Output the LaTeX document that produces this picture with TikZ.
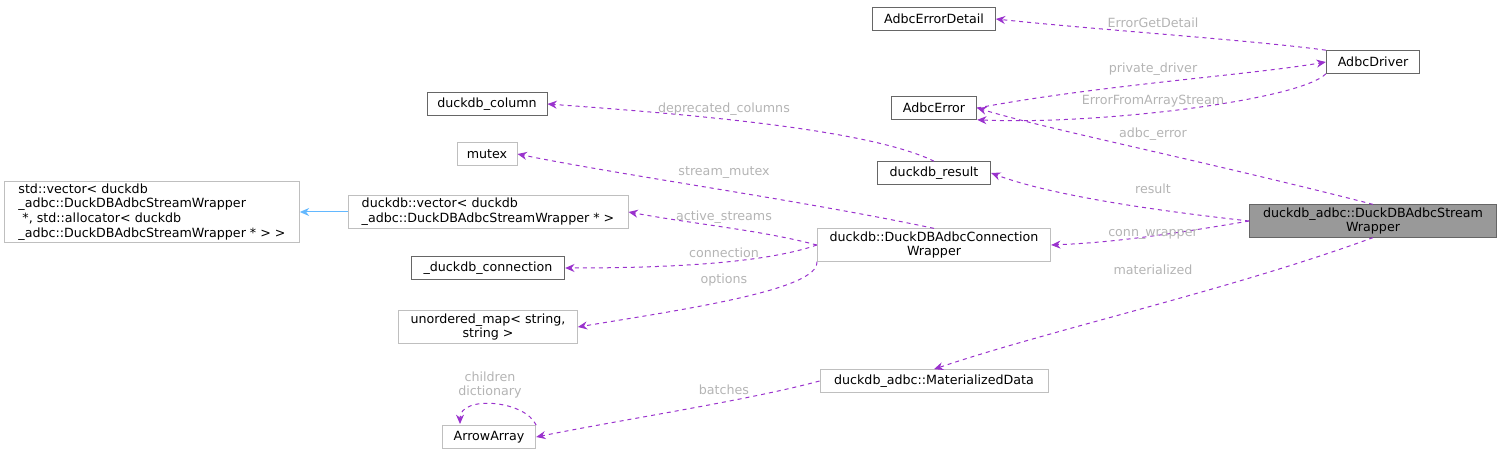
\documentclass[tikz,border=0pt]{standalone}
\usepackage{fontspec}
\setmainfont{DejaVu Sans}
\usetikzlibrary{arrows.meta}
\definecolor{edgec}{HTML}{9A32CD}
\definecolor{lblc}{HTML}{B4B4B4}
\definecolor{darkb}{HTML}{666666}
\definecolor{lightb}{HTML}{BFBFBF}
\tikzset{every picture/.style={line width=0.75pt}}
\tikzset{
	cls/.style={draw=darkb,fill=white,inner sep=2pt,minimum height=17pt,align=center,font=\fontsize{9.5}{11}\selectfont},
	ext/.style={cls,draw=lightb},
	use/.style={draw=edgec,dashed,-{Stealth[length=7pt,width=6pt]}},
	lbl/.style={text=lblc,font=\fontsize{9.5}{11}\selectfont,inner sep=1pt},
}

\begin{document}
\begin{tikzpicture}[x=0.75pt,y=0.75pt,yscale=-1,xscale=1]
	\useasboundingbox (0,0) rectangle (1503,456);
	
	% classes
	\node [cls,minimum width=92pt] (det) at (934,19) {AdbcErrorDetail};
	\node [cls,minimum width=70pt] (drv) at (1373,62) {AdbcDriver};
	\node [cls,minimum width=64pt] (err) at (934,108) {AdbcError};
	\node [cls,minimum width=90pt] (col) at (487,104) {duckdb\_column};
	\node [ext,minimum width=45pt] (mtx) at (487,154) {mutex};
	\node [cls,minimum width=85pt] (res) at (934,173) {duckdb\_result};
	\node [ext,minimum width=221pt,align=left] (stdv) at (152,212) {std::vector\textless{} duckdb\\\_adbc::DuckDBAdbcStreamWrapper\\\ *, std::allocator\textless{} duckdb\\\_adbc::DuckDBAdbcStreamWrapper * \textgreater{} \textgreater{}};
	\node [ext,minimum width=210pt,align=left] (vec) at (488,212) {duckdb::vector\textless{} duckdb\\\_adbc::DuckDBAdbcStreamWrapper * \textgreater{}};
	\node [cls,fill={rgb,255:red,153;green,153;blue,153},minimum width=185pt] (sw) at (1373,221) {duckdb\_adbc::DuckDBAdbcStream\\Wrapper};
	\node [ext,minimum width=175pt] (cw) at (934,245) {duckdb::DuckDBAdbcConnection\\Wrapper};
	\node [cls,minimum width=115pt] (con) at (488,268) {\_duckdb\_connection};
	\node [ext,minimum width=134pt] (map) at (488,327) {unordered\_map\textless{} string,\\string \textgreater{}};
	\node [ext,minimum width=171pt] (mat) at (934,381) {duckdb\_adbc::MaterializedData};
	\node [ext,minimum width=70pt] (arr) at (489,437) {ArrowArray};
	
	% inheritance
	\draw [draw={rgb,255:red,99;green,184;blue,255},-{Stealth[length=7pt,width=6pt]}] (vec) -- (stdv);
	
	% members
	\draw [use] (drv.north west) .. controls (1250,40) and (1100,30) .. (det.east);
	\node [lbl] (l1) at (1153,23) {ErrorGetDetail};
	\draw [use] (err.east) .. controls (1100,85) and (1250,75) .. (drv.west);
	\node [lbl] (l2) at (1153,69) {private\_driver};
	\draw [use] (drv.south west) .. controls (1300,100) and (1100,125) .. (err.south east);
	\node [lbl] (l3) at (1153,101) {ErrorFromArrayStream};
	\draw [use] (sw.north) .. controls (1200,160) and (1050,130) .. (err.east);
	\node [lbl] (l4) at (1153,134) {adbc\_error};
	\draw [use] (res.north) .. controls (870,130) and (700,115) .. (col.east);
	\node [lbl] (l5) at (724,109) {deprecated\_columns};
	\draw [use] (sw.west) .. controls (1150,210) and (1050,195) .. (res.east);
	\node [lbl] (l6) at (1153,189) {result};
	\draw [use] (cw.north) .. controls (800,200) and (620,175) .. (mtx.east);
	\node [lbl] (l7) at (724,173) {stream\_mutex};
	\draw [use] (cw.west) .. controls (760,230) and (700,225) .. (vec.east);
	\node [lbl] (l8) at (724,217) {active\_streams};
	\draw [use] (sw.west) .. controls (1150,238) and (1100,243) .. (cw.east);
	\node [lbl] (l9) at (1153,234) {conn\_wrapper};
	\draw [use] (cw.west) .. controls (760,265) and (650,268) .. (con.east);
	\node [lbl] (l10) at (724,253) {connection};
	\draw [use] (cw.south west) .. controls (820,290) and (680,310) .. (map.east);
	\node [lbl] (l11) at (724,280) {options};
	\draw [use] (sw.south) .. controls (1230,290) and (1050,330) .. (mat.north);
	\node [lbl] (l12) at (1153,270) {materialized};
	\draw [use] (mat.west) .. controls (750,400) and (620,420) .. (arr.east);
	\node [lbl] (l13) at (724,390) {batches};
	\draw [use] (arr.north east) .. controls (525,400) and (460,395) .. (460,424);
	\node [lbl,align=center] (l14) at (490,385) {children\\dictionary};
	
\end{tikzpicture}
\end{document}
